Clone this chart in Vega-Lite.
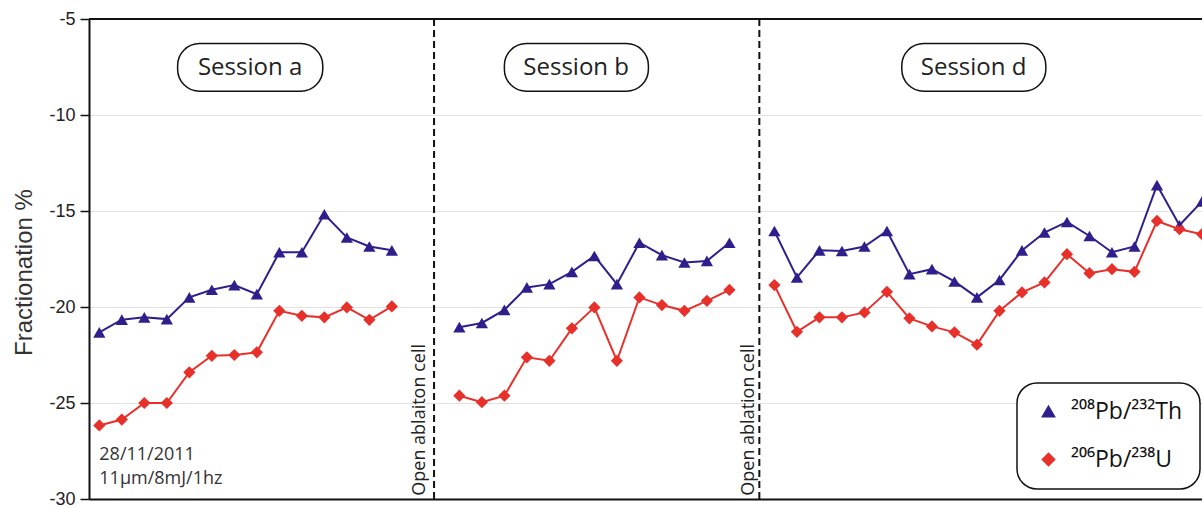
{
  "$schema": "https://vega.github.io/schema/vega-lite/v6.json",
  "width": 1113,
  "height": 480,
  "autosize": {"type": "none"},
  "padding": {"left": 89, "top": 19, "right": 0, "bottom": 9},
  "background": "white",
  "config": {
    "view": {"stroke": null},
    "legend": {
      "labelFont": "Open Sans", "labelFontSize": 23, "labelColor": "#111111", "labelOffset": 11,
      "symbolSize": 150, "symbolOffset": 3, "rowPadding": 24,
      "padding": 17, "cornerRadius": 20, "strokeColor": "#111111", "strokeWidth": 1.5, "fillColor": "white"
    }
  },
  "datasets": {
    "series": [
      {"session": "a", "i": 1, "ratio": "Th", "v": -21.32},
      {"session": "a", "i": 2, "ratio": "Th", "v": -20.66},
      {"session": "a", "i": 3, "ratio": "Th", "v": -20.54},
      {"session": "a", "i": 4, "ratio": "Th", "v": -20.63},
      {"session": "a", "i": 5, "ratio": "Th", "v": -19.5},
      {"session": "a", "i": 6, "ratio": "Th", "v": -19.1},
      {"session": "a", "i": 7, "ratio": "Th", "v": -18.86},
      {"session": "a", "i": 8, "ratio": "Th", "v": -19.33},
      {"session": "a", "i": 9, "ratio": "Th", "v": -17.15},
      {"session": "a", "i": 10, "ratio": "Th", "v": -17.15},
      {"session": "a", "i": 11, "ratio": "Th", "v": -15.17},
      {"session": "a", "i": 12, "ratio": "Th", "v": -16.38},
      {"session": "a", "i": 13, "ratio": "Th", "v": -16.85},
      {"session": "a", "i": 14, "ratio": "Th", "v": -17.05},
      {"session": "a", "i": 1, "ratio": "U", "v": -26.17},
      {"session": "a", "i": 2, "ratio": "U", "v": -25.86},
      {"session": "a", "i": 3, "ratio": "U", "v": -25.0},
      {"session": "a", "i": 4, "ratio": "U", "v": -25.0},
      {"session": "a", "i": 5, "ratio": "U", "v": -23.4},
      {"session": "a", "i": 6, "ratio": "U", "v": -22.54},
      {"session": "a", "i": 7, "ratio": "U", "v": -22.5},
      {"session": "a", "i": 8, "ratio": "U", "v": -22.36},
      {"session": "a", "i": 9, "ratio": "U", "v": -20.2},
      {"session": "a", "i": 10, "ratio": "U", "v": -20.46},
      {"session": "a", "i": 11, "ratio": "U", "v": -20.54},
      {"session": "a", "i": 12, "ratio": "U", "v": -20.02},
      {"session": "a", "i": 13, "ratio": "U", "v": -20.67},
      {"session": "a", "i": 14, "ratio": "U", "v": -19.97},
      {"session": "b", "i": 17, "ratio": "Th", "v": -21.05},
      {"session": "b", "i": 18, "ratio": "Th", "v": -20.83},
      {"session": "b", "i": 19, "ratio": "Th", "v": -20.15},
      {"session": "b", "i": 20, "ratio": "Th", "v": -18.98},
      {"session": "b", "i": 21, "ratio": "Th", "v": -18.81},
      {"session": "b", "i": 22, "ratio": "Th", "v": -18.17},
      {"session": "b", "i": 23, "ratio": "Th", "v": -17.34},
      {"session": "b", "i": 24, "ratio": "Th", "v": -18.81},
      {"session": "b", "i": 25, "ratio": "Th", "v": -16.65},
      {"session": "b", "i": 26, "ratio": "Th", "v": -17.3},
      {"session": "b", "i": 27, "ratio": "Th", "v": -17.68},
      {"session": "b", "i": 28, "ratio": "Th", "v": -17.6},
      {"session": "b", "i": 29, "ratio": "Th", "v": -16.65},
      {"session": "b", "i": 17, "ratio": "U", "v": -24.62},
      {"session": "b", "i": 18, "ratio": "U", "v": -24.96},
      {"session": "b", "i": 19, "ratio": "U", "v": -24.62},
      {"session": "b", "i": 20, "ratio": "U", "v": -22.62},
      {"session": "b", "i": 21, "ratio": "U", "v": -22.8},
      {"session": "b", "i": 22, "ratio": "U", "v": -21.11},
      {"session": "b", "i": 23, "ratio": "U", "v": -20.02},
      {"session": "b", "i": 24, "ratio": "U", "v": -22.8},
      {"session": "b", "i": 25, "ratio": "U", "v": -19.5},
      {"session": "b", "i": 26, "ratio": "U", "v": -19.9},
      {"session": "b", "i": 27, "ratio": "U", "v": -20.2},
      {"session": "b", "i": 28, "ratio": "U", "v": -19.68},
      {"session": "b", "i": 29, "ratio": "U", "v": -19.11},
      {"session": "d", "i": 31, "ratio": "Th", "v": -16.04},
      {"session": "d", "i": 32, "ratio": "Th", "v": -18.46},
      {"session": "d", "i": 33, "ratio": "Th", "v": -17.05},
      {"session": "d", "i": 34, "ratio": "Th", "v": -17.08},
      {"session": "d", "i": 35, "ratio": "Th", "v": -16.85},
      {"session": "d", "i": 36, "ratio": "Th", "v": -16.04},
      {"session": "d", "i": 37, "ratio": "Th", "v": -18.29},
      {"session": "d", "i": 38, "ratio": "Th", "v": -18.03},
      {"session": "d", "i": 39, "ratio": "Th", "v": -18.67},
      {"session": "d", "i": 40, "ratio": "Th", "v": -19.5},
      {"session": "d", "i": 41, "ratio": "Th", "v": -18.59},
      {"session": "d", "i": 42, "ratio": "Th", "v": -17.05},
      {"session": "d", "i": 43, "ratio": "Th", "v": -16.12},
      {"session": "d", "i": 44, "ratio": "Th", "v": -15.57},
      {"session": "d", "i": 45, "ratio": "Th", "v": -16.3},
      {"session": "d", "i": 46, "ratio": "Th", "v": -17.15},
      {"session": "d", "i": 47, "ratio": "Th", "v": -16.85},
      {"session": "d", "i": 48, "ratio": "Th", "v": -13.65},
      {"session": "d", "i": 49, "ratio": "Th", "v": -15.74},
      {"session": "d", "i": 50, "ratio": "Th", "v": -14.5},
      {"session": "d", "i": 31, "ratio": "U", "v": -18.86},
      {"session": "d", "i": 32, "ratio": "U", "v": -21.29},
      {"session": "d", "i": 33, "ratio": "U", "v": -20.54},
      {"session": "d", "i": 34, "ratio": "U", "v": -20.54},
      {"session": "d", "i": 35, "ratio": "U", "v": -20.28},
      {"session": "d", "i": 36, "ratio": "U", "v": -19.21},
      {"session": "d", "i": 37, "ratio": "U", "v": -20.59},
      {"session": "d", "i": 38, "ratio": "U", "v": -21.01},
      {"session": "d", "i": 39, "ratio": "U", "v": -21.32},
      {"session": "d", "i": 40, "ratio": "U", "v": -21.96},
      {"session": "d", "i": 41, "ratio": "U", "v": -20.2},
      {"session": "d", "i": 42, "ratio": "U", "v": -19.24},
      {"session": "d", "i": 43, "ratio": "U", "v": -18.72},
      {"session": "d", "i": 44, "ratio": "U", "v": -17.25},
      {"session": "d", "i": 45, "ratio": "U", "v": -18.24},
      {"session": "d", "i": 46, "ratio": "U", "v": -18.03},
      {"session": "d", "i": 47, "ratio": "U", "v": -18.17},
      {"session": "d", "i": 48, "ratio": "U", "v": -15.52},
      {"session": "d", "i": 49, "ratio": "U", "v": -15.95},
      {"session": "d", "i": 50, "ratio": "U", "v": -16.21}
    ],
    "vlines": [{"x": 15.875}, {"x": 30.33}],
    "topline": [{"y": -5}],
    "sessions": [
      {"label": "Session a", "x1": 4.48, "x2": 10.93, "xc": 7.7, "y1": -6.28, "y2": -8.76, "yt": -7.9},
      {"label": "Session b", "x1": 19.0, "x2": 25.4, "xc": 22.19, "y1": -6.28, "y2": -8.76, "yt": -7.9},
      {"label": "Session d", "x1": 36.66, "x2": 43.06, "xc": 39.85, "y1": -6.28, "y2": -8.76, "yt": -7.9}
    ],
    "notes": [
      {"text": "28/11/2011", "x": 1.0, "y": -27.99},
      {"text": "11µm/8mJ/1hz", "x": 1.0, "y": -29.2}
    ],
    "cells": [
      {"text": "Open ablaiton cell", "x": 15.25, "y": -29.83},
      {"text": "Open ablation cell", "x": 29.87, "y": -29.83}
    ]
  },
  "layer": [
    {
      "data": {"name": "series"},
      "mark": {"type": "point", "filled": true, "opacity": 1, "size": 150},
      "encoding": {
        "x": {
          "field": "i", "type": "quantitative",
          "scale": {"domain": [0.542, 50], "nice": false, "zero": false},
          "axis": {"orient": "bottom", "domain": true, "domainColor": "#111111", "domainWidth": 2, "ticks": false, "labels": false, "grid": false, "title": null}
        },
        "y": {
          "field": "v", "type": "quantitative",
          "scale": {"domain": [-30, -5], "nice": false, "zero": false},
          "axis": {
            "values": [-30, -25, -20, -15, -10, -5],
            "labelExpr": "'' + datum.value",
            "title": "Fractionation %",
            "titleFont": "Liberation Sans", "titleFontSize": 24, "titleFontWeight": "normal", "titleColor": "#333333",
            "titleX": -65, "titleY": 253, "titleAngle": 270, "titleAlign": "center", "titleBaseline": "middle",
            "labelFont": "Liberation Sans", "labelFontSize": 18, "labelColor": "#222222", "labelPadding": 5,
            "tickSize": 9, "tickColor": "#111111", "tickWidth": 1.5,
            "domainColor": "#111111", "domainWidth": 2,
            "grid": true, "gridColor": "#e2e2e2", "gridWidth": 1
          }
        },
        "color": {
          "field": "ratio", "type": "nominal",
          "scale": {"domain": ["Th", "U"], "range": ["#2f1f8c", "#e8302b"]},
          "legend": {
            "orient": "none", "legendX": 928, "legendY": 364, "title": null,
            "labelExpr": "datum.label == 'Th' ? '²⁰⁸Pb/²³²Th' : '²⁰⁶Pb/²³⁸U'"
          }
        },
        "shape": {
          "field": "ratio", "type": "nominal",
          "scale": {"domain": ["Th", "U"], "range": ["triangle-up", "diamond"]},
          "legend": {
            "orient": "none", "legendX": 928, "legendY": 364, "title": null,
            "labelExpr": "datum.label == 'Th' ? '²⁰⁸Pb/²³²Th' : '²⁰⁶Pb/²³⁸U'"
          }
        }
      }
    },
    {
      "data": {"name": "series"},
      "mark": {"type": "line", "strokeWidth": 2},
      "encoding": {
        "x": {"field": "i", "type": "quantitative"},
        "y": {"field": "v", "type": "quantitative"},
        "stroke": {"field": "ratio", "type": "nominal", "scale": {"domain": ["Th", "U"], "range": ["#2f1f8c", "#e8302b"]}, "legend": null},
        "detail": {"field": "session", "type": "nominal"}
      }
    },
    {
      "data": {"name": "vlines"},
      "mark": {"type": "rule", "color": "#111111", "strokeWidth": 2, "strokeDash": [7, 4]},
      "encoding": {
        "x": {"field": "x", "type": "quantitative"}
      }
    },
    {
      "data": {"name": "topline"},
      "mark": {"type": "rule", "color": "#111111", "strokeWidth": 2},
      "encoding": {
        "y": {"field": "y", "type": "quantitative"}
      }
    },
    {
      "data": {"name": "sessions"},
      "mark": {"type": "rect", "fill": "white", "stroke": "#111111", "strokeWidth": 1.5, "cornerRadius": 22},
      "encoding": {
        "x": {"field": "x1", "type": "quantitative"},
        "x2": {"field": "x2"},
        "y": {"field": "y1", "type": "quantitative"},
        "y2": {"field": "y2"}
      }
    },
    {
      "data": {"name": "sessions"},
      "mark": {"type": "text", "font": "Open Sans", "fontSize": 24, "color": "#222222", "align": "center", "baseline": "alphabetic"},
      "encoding": {
        "x": {"field": "xc", "type": "quantitative"},
        "y": {"field": "yt", "type": "quantitative"},
        "text": {"field": "label"}
      }
    },
    {
      "data": {"name": "notes"},
      "mark": {"type": "text", "font": "Open Sans", "fontSize": 18, "color": "#333333", "align": "left", "baseline": "alphabetic"},
      "encoding": {
        "x": {"field": "x", "type": "quantitative"},
        "y": {"field": "y", "type": "quantitative"},
        "text": {"field": "text"}
      }
    },
    {
      "data": {"name": "cells"},
      "mark": {"type": "text", "font": "Open Sans", "fontSize": 18, "color": "#222222", "align": "left", "baseline": "middle", "angle": 270},
      "encoding": {
        "x": {"field": "x", "type": "quantitative"},
        "y": {"field": "y", "type": "quantitative"},
        "text": {"field": "text"}
      }
    }
  ]
}
